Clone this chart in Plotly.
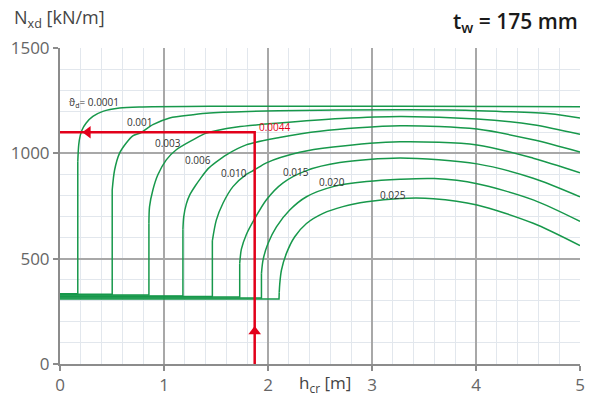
import plotly.graph_objects as go

# ---------------- data ----------------
theta_labels = ["0.0001", "0.001", "0.003", "0.006", "0.010", "0.015", "0.020", "0.025"]

# horizontal base level and position of the vertical rise of every curve
base_y = [334, 331, 327, 323, 320, 318, 313, 308]
rise_x = [0.171, 0.502, 0.855, 1.182, 1.465, 1.728, 1.937, 2.106]

# upper (curved) branch of every curve, starting at the foot of the vertical rise
x_0001 = [0.171, 0.171, 0.18, 0.195, 0.213, 0.252, 0.316, 0.412, 0.573, 0.794, 1.44, 3.27, 5.0]
y_0001 = [334, 960, 1040, 1085, 1112, 1144, 1175, 1199, 1215, 1220, 1223, 1223, 1221]

x_001 = [0.502, 0.502, 0.525, 0.573, 0.637, 0.70, 0.78, 0.893, 1.054, 1.278, 1.44, 2.1, 3.27, 3.9, 4.23, 4.71, 5.0]
y_001 = [331, 826, 921, 1001, 1049, 1083, 1099, 1136, 1168, 1183, 1191, 1202, 1207, 1205, 1199, 1188, 1168]

x_003 = [0.855, 0.855, 0.861, 0.893, 0.941, 1.022, 1.118, 1.278, 1.407, 1.7, 2.11, 2.7, 3.27, 4.01, 4.55, 5.0]
y_003 = [327, 668, 747, 826, 898, 969, 1017, 1064, 1096, 1125, 1144, 1165, 1175, 1163, 1136, 1090]

x_006 = [1.182, 1.182, 1.19, 1.215, 1.25, 1.30, 1.35, 1.42, 1.5, 1.6, 1.79, 2.11, 2.5, 3.27, 4.01, 4.55, 5.0]
y_006 = [323, 640, 700, 760, 805, 845, 880, 925, 958, 993, 1040, 1075, 1105, 1131, 1115, 1064, 1006]

x_010 = [1.465, 1.465, 1.503, 1.567, 1.663, 1.792, 1.872, 1.985, 2.305, 2.626, 3.27, 4.01, 4.55, 5.0]
y_010 = [320, 585, 683, 763, 842, 900, 922, 955, 1005, 1030, 1055, 1040, 977, 908]

x_015 = [1.728, 1.728, 1.744, 1.792, 1.872, 1.985, 2.145, 2.37, 2.69, 3.27, 4.01, 4.55, 5.0]
y_015 = [318, 477, 545, 615, 690, 780, 860, 918, 956, 978, 950, 882, 794]

x_020 = [1.937, 1.937, 1.952, 2.0, 2.081, 2.209, 2.37, 2.626, 2.947, 3.27, 3.6, 4.01, 4.55, 5.0]
y_020 = [313, 429, 493, 572, 651, 731, 794, 842, 866, 877, 880, 856, 779, 677]

x_025 = [2.106, 2.108, 2.113, 2.129, 2.177, 2.257, 2.37, 2.53, 2.72, 2.95, 3.27, 3.59, 4.01, 4.55, 5.0]
y_025 = [308, 340, 380, 445, 525, 604, 667, 715, 747, 770, 786, 785, 755, 668, 562]

curve_x = [x_0001, x_001, x_003, x_006, x_010, x_015, x_020, x_025]
curve_y = [y_0001, y_001, y_003, y_006, y_010, y_015, y_020, y_025]

# curve labels
label_x = [0.072, 0.77, 1.04, 1.33, 1.67, 2.27, 2.62, 3.2]
label_y = [1240, 1150, 1051, 969, 906, 913, 863, 802]

# worked example (red)
red_x = [1.872, 1.872, 0.0]
red_y = [0, 1100, 1100]
red_label = "0.0044"
red_label_x = [2.06]
red_label_y = [1125]
arrow_up_x = [1.872]
arrow_up_y = [154]
arrow_left_x = [0.268]
arrow_left_y = [1100]

x_ticks = [0, 1, 2, 3, 4, 5]
y_ticks = [0, 500, 1000, 1500]

# ---------------- figure ----------------
GREEN = "#17984b"
RED = "#e2001a"
FONT = "Open Sans"

fig = go.Figure()

for i in range(len(curve_x)):
    cx, cy = curve_x[i], curve_y[i]
    # base: horizontal then vertical (sharp corner)
    fig.add_trace(go.Scatter(
        x=[0] + cx[:2], y=[base_y[i]] + cy[:2],
        mode="lines", line=dict(color=GREEN, width=1.5),
        hoverinfo="skip", showlegend=False))
    # curved branch
    fig.add_trace(go.Scatter(
        x=cx[1:], y=cy[1:],
        mode="lines", line=dict(color=GREEN, width=1.5, shape="spline", smoothing=0.8),
        hoverinfo="skip", showlegend=False))

fig.add_trace(go.Scatter(
    x=red_x, y=red_y, mode="lines", line=dict(color=RED, width=2.5),
    hoverinfo="skip", showlegend=False))
fig.add_trace(go.Scatter(
    x=arrow_up_x, y=arrow_up_y, mode="markers",
    marker=dict(symbol="triangle-up", size=11, color=RED),
    hoverinfo="skip", showlegend=False))
fig.add_trace(go.Scatter(
    x=arrow_left_x, y=arrow_left_y, mode="markers",
    marker=dict(symbol="triangle-left", size=11, color=RED),
    hoverinfo="skip", showlegend=False))

annotations = []
for i, t in enumerate(theta_labels):
    txt = "ϑ<sub>d</sub>= " + t if i == 0 else t
    annotations.append(dict(
        x=label_x[i], y=label_y[i], xref="x", yref="y", text=txt, showarrow=False,
        xanchor="left" if i == 0 else "center", yanchor="middle",
        font=dict(family=FONT, size=10, color="#333333")))
annotations.append(dict(
    x=red_label_x[0], y=red_label_y[0], xref="x", yref="y", text=red_label, showarrow=False,
    xanchor="center", yanchor="middle", font=dict(family=FONT, size=10, color=RED)))

annotations.append(dict(
    x=-0.092, y=1.092, xref="paper", yref="paper", text="N<sub>xd</sub> [kN/m]",
    showarrow=False, xanchor="left", yanchor="middle",
    font=dict(family=FONT, size=18, color="#444444")))
annotations.append(dict(
    x=1.0, y=1.082, xref="paper", yref="paper", text="t<sub>w</sub> = 175 mm",
    showarrow=False, xanchor="right", yanchor="middle",
    font=dict(family=FONT, size=21, color="#1a1a1a", weight=600)))
annotations.append(dict(
    x=0.456, y=-0.063, xref="paper", yref="paper", text="h<sub>cr</sub> [m]",
    showarrow=False, xanchor="left", yanchor="middle",
    font=dict(family=FONT, size=17, color="#444444")))

fig.update_layout(
    width=590, height=396,
    margin=dict(l=60, r=10, t=48, b=32, autoexpand=False),
    paper_bgcolor="white", plot_bgcolor="white",
    showlegend=False,
    annotations=annotations,
    xaxis=dict(
        range=[0, 5], tickvals=x_ticks, showgrid=True, gridcolor="#a8a8a8", gridwidth=1.5,
        minor=dict(dtick=0.2, showgrid=True, gridcolor="#e2e7ed", gridwidth=1),
        showline=True, linecolor="#8c8c8c", linewidth=2, ticks="outside", ticklen=5,
        tickcolor="#8c8c8c", tickwidth=1.5, zeroline=False, automargin=False,
        tickfont=dict(family=FONT, size=17, color="#666666")),
    yaxis=dict(
        range=[0, 1500], tickvals=y_ticks, showgrid=True, gridcolor="#a8a8a8", gridwidth=1.5,
        minor=dict(dtick=100, showgrid=True, gridcolor="#e2e7ed", gridwidth=1),
        showline=True, linecolor="#8c8c8c", linewidth=2, ticks="outside", ticklen=5,
        tickcolor="#8c8c8c", tickwidth=1.5, zeroline=False, automargin=False,
        tickfont=dict(family=FONT, size=17, color="#666666")),
)

fig.write_html("out.html")
